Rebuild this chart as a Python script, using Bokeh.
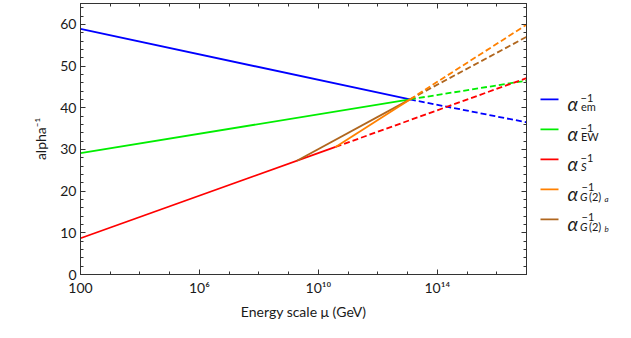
from bokeh.plotting import figure
from bokeh.layouts import row
from bokeh.models import (Range1d, FixedTicker, LogAxis, LinearAxis, Label)
from bokeh.embed import file_html
from bokeh.resources import INLINE

# ---------------- data ----------------
mu_lo = 1e2          # GeV, left end of plot
mu_hi = 1e17         # GeV, right end of plot
mu_unif = 1.2e13     # unification point
alpha_unif = 42.0
mu_s_break = 3.8e10  # alpha_S solid -> dashed, G(2)_a starts
alpha_s_break = 30.6
mu_gb_start = 1.9e9  # G(2)_b branches off alpha_S
alpha_gb_start = 27.3

em_mu = [mu_lo, mu_unif];          em_alpha = [58.9, alpha_unif]
em_mu_d = [mu_unif, mu_hi];        em_alpha_d = [alpha_unif, 36.5]
ew_mu = [mu_lo, mu_unif];          ew_alpha = [29.1, alpha_unif]
ew_mu_d = [mu_unif, mu_hi];        ew_alpha_d = [alpha_unif, 46.5]
s_mu = [mu_lo, mu_s_break];        s_alpha = [8.7, alpha_s_break]
s_mu_d = [mu_s_break, mu_hi];      s_alpha_d = [alpha_s_break, 47.1]
ga_mu = [mu_s_break, mu_unif];     ga_alpha = [alpha_s_break, alpha_unif]
ga_mu_d = [mu_unif, mu_hi];        ga_alpha_d = [alpha_unif, 59.9]
gb_mu = [mu_gb_start, mu_unif];    gb_alpha = [alpha_gb_start, alpha_unif]
gb_mu_d = [mu_unif, mu_hi];        gb_alpha_d = [alpha_unif, 57.0]

x_tick_values = [1e2, 1e6, 1e10, 1e14]
x_tick_labels = ["100", "10\u2076", "10\u00b9\u2070", "10\u00b9\u2074"]
x_minor_values = [10.0 ** k for k in range(2, 18)]
y_tick_values = [0, 10, 20, 30, 40, 50, 60]
y_minor_values = list(range(0, 66, 2))

series_keys = ["em", "ew", "s", "ga", "gb"]
colors = {"em": "#0000ff", "ew": "#00ee00", "s": "#ff0000",
          "ga": "#ff8000", "gb": "#b0661e"}

FONT = "Lato"
TXT = "#1a1a1a"
AX = "#333333"

MAIN_W, LEG_W, H = 529, 86, 322

p = figure(width=MAIN_W, height=H, x_axis_type="log",
           x_range=Range1d(mu_lo, mu_hi), y_range=Range1d(0, 65),
           output_backend="svg", toolbar_location=None,
           min_border_left=80, min_border_right=3,
           min_border_top=3, min_border_bottom=40)
p.grid.visible = False
p.outline_line_color = AX
p.background_fill_color = "white"
p.border_fill_color = "white"

lw = 1.8
dash = "6 3"
p.line(em_mu, em_alpha, line_color=colors["em"], line_width=lw)
p.line(em_mu_d, em_alpha_d, line_color=colors["em"], line_width=lw, line_dash=dash)
p.line(ew_mu, ew_alpha, line_color=colors["ew"], line_width=lw)
p.line(ew_mu_d, ew_alpha_d, line_color=colors["ew"], line_width=lw, line_dash=dash)
p.line(s_mu, s_alpha, line_color=colors["s"], line_width=lw)
p.line(s_mu_d, s_alpha_d, line_color=colors["s"], line_width=lw, line_dash=dash)
p.line(gb_mu, gb_alpha, line_color=colors["gb"], line_width=lw)
p.line(gb_mu_d, gb_alpha_d, line_color=colors["gb"], line_width=lw, line_dash=dash)
p.line(ga_mu, ga_alpha, line_color=colors["ga"], line_width=lw)
p.line(ga_mu_d, ga_alpha_d, line_color=colors["ga"], line_width=lw, line_dash=dash)

xt = FixedTicker(ticks=x_tick_values, minor_ticks=x_minor_values)
yt = FixedTicker(ticks=y_tick_values, minor_ticks=y_minor_values)


def style_axis(ax, show_labels):
    ax.axis_line_color = AX
    ax.major_tick_line_color = AX
    ax.minor_tick_line_color = AX
    ax.major_tick_in = 5
    ax.major_tick_out = 0
    ax.minor_tick_in = 3
    ax.minor_tick_out = 0
    ax.major_label_text_font = FONT
    ax.major_label_text_color = TXT
    ax.axis_label_text_font = FONT
    ax.axis_label_text_color = TXT
    ax.axis_label_text_font_style = "normal"
    ax.axis_label_text_font_size = "14px"
    if show_labels:
        ax.major_label_text_font_size = "14px"
    else:
        ax.major_label_text_font_size = "1px"
        ax.major_label_text_alpha = 0
        ax.major_label_standoff = 0


xa = p.xaxis[0]
xa.ticker = xt
xa.major_label_overrides = dict(zip(x_tick_values, x_tick_labels))
xa.axis_label = "Energy scale \u03bc (GeV)"
style_axis(xa, True)
xa.major_label_standoff = 4
xa.axis_label_standoff = 4

ya = p.yaxis[0]
ya.ticker = yt
ya.axis_label = "alpha\u207b\u00b9"
style_axis(ya, True)
ya.major_label_standoff = 4
ya.axis_label_standoff = 8

top = LogAxis(ticker=xt)
style_axis(top, False)
p.add_layout(top, "above")
right = LinearAxis(ticker=yt)
style_axis(right, False)
p.add_layout(right, "right")

# ---------------- legend panel: x in pixels, y shares the alpha scale ------
q = figure(width=LEG_W, height=H, x_range=Range1d(0, LEG_W),
           y_range=p.y_range, x_axis_location=None, y_axis_location=None,
           output_backend="svg", toolbar_location=None, min_border=0)
q.grid.visible = False
q.outline_line_color = None
q.border_fill_color = "white"
q.background_fill_color = "white"

key_x0, key_x1 = 11, 29            # legend key sample, pixels
key_rows = [42.0, 34.8, 27.6, 20.4, 13.2]   # row positions on the alpha scale
q.segment(x0=[key_x0] * 5, y0=key_rows, x1=[key_x1] * 5, y1=key_rows,
          line_color=[colors[k] for k in series_keys], line_width=lw)


def lab(X, yrow, dy, text, size, style="normal"):
    q.add_layout(Label(x=X, y=yrow, y_offset=-dy, text=text, text_font=FONT,
                       text_font_size=size, text_font_style=style,
                       text_color=TXT, text_baseline="alphabetic",
                       text_align="left"))


tx = 38.0  # x of the alpha glyph
subs = [("em", "normal"), ("EW", "normal"), ("S", "italic")]
for i, (sub, st) in enumerate(subs):
    yc = key_rows[i]
    lab(tx, yc, 4.5, "\u03b1", "19px", "italic")
    lab(tx + 13, yc, -1.5, "\u22121", "11px")
    lab(tx + 13.5, yc, 7.5, sub, "11px", st)

for i, ss in enumerate(["a", "b"]):
    yc = key_rows[3 + i]
    lab(tx, yc, 4.5, "\u03b1", "19px", "italic")
    lab(tx + 14, yc, -2.0, "\u22121", "11px")
    lab(tx + 12.5, yc, 7.0, "G", "11px", "italic")
    lab(tx + 21.5, yc, 7.0, "(2)", "11px")
    lab(tx + 37.0, yc, 10.0, ss, "8px", "italic")

layout = row(p, q)
open("out.html", "w").write(file_html(layout, INLINE))
